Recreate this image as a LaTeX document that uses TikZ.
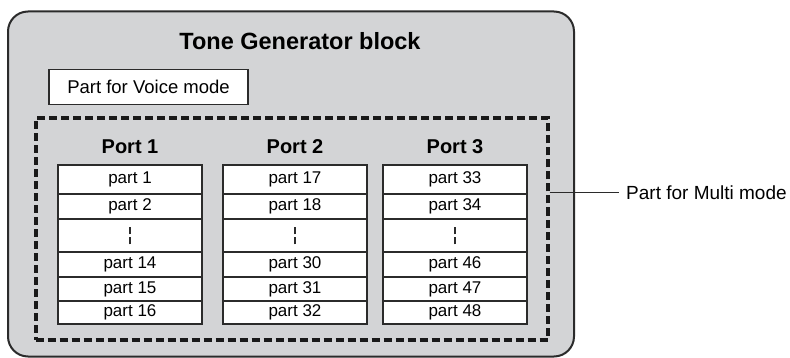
\documentclass[tikz,border=0pt]{standalone}
\usepackage{fontspec}
\setmainfont{Liberation Sans}
\definecolor{blockgray}{HTML}{D3D4D6}
\definecolor{edge}{HTML}{2B2B2B}
\tikzset{
  blockbox/.style={draw=edge, line width=2pt, fill=blockgray, rounded corners=20pt, inner sep=0pt},
  multibox/.style={draw=black!90, line width=4pt, dash pattern=on 8pt off 4pt, inner sep=0pt},
  cellbox/.style={draw=edge, line width=1.3pt, fill=white, minimum width=144pt, inner sep=0pt, font=\fontsize{17}{19}\selectfont},
  voicebox/.style={draw=edge, line width=1.3pt, fill=white, inner sep=0pt, minimum width=199pt, minimum height=35pt, font=\fontsize{18.5}{20}\selectfont},
  titletext/.style={font=\fontsize{23.5}{26}\selectfont\bfseries, inner sep=0pt},
  porttext/.style={font=\fontsize{20}{22}\selectfont\bfseries, inner sep=0pt},
  labeltext/.style={font=\fontsize{19}{21}\selectfont, inner sep=0pt},
}
\begin{document}
\begin{tikzpicture}[x=1pt,y=-1pt]
\useasboundingbox (0,0) rectangle (790,358);
\node[blockbox, minimum width=566pt, minimum height=345pt] (block) at (291,184) {};
\node[titletext] (title) at (300,41) {Tone Generator block};
\node[voicebox] (voice) at (148.5,87) {Part for Voice mode};
\node[multibox, minimum width=512pt, minimum height=221pt] (multi) at (291.5,229) {};
% ports
\foreach \c/\x/\n in {1/130/1,2/295/2,3/455/3}{
  \node[porttext] (port\c) at (\x,147) {Port \n};
}
% cells
\foreach \c/\x/\o in {1/130/0,2/295/16,3/455/32}{
  \foreach \r/\ya/\yb/\k in {1/165/194/1,2/194/219/2,4/252/277/14,5/277/301/15,6/301/324/16}{
    \pgfmathtruncatemacro{\num}{\k+\o}
    \pgfmathsetmacro{\h}{\yb-\ya}
    \pgfmathsetmacro{\ym}{(\ya+\yb)/2}
    \node[cellbox, minimum height=\h pt] (c\c r\r) at (\x,\ym) {part \num};
  }
  \node[cellbox, minimum height=33pt] (c\c r3) at (\x,235.5) {};
  \draw[edge, line width=1.1pt, dash pattern=on 7pt off 3pt] ([yshift=-9pt]c\c r3.center) -- ([yshift=8pt]c\c r3.center);
}
\node[labeltext, anchor=west] (mlabel) at (626,193) {Part for Multi mode};
\coordinate (lead) at (multi.east |- mlabel.west);
\draw[edge, line width=1pt] (lead) -- ([xshift=-7pt]mlabel.west);
\end{tikzpicture}
\end{document}
